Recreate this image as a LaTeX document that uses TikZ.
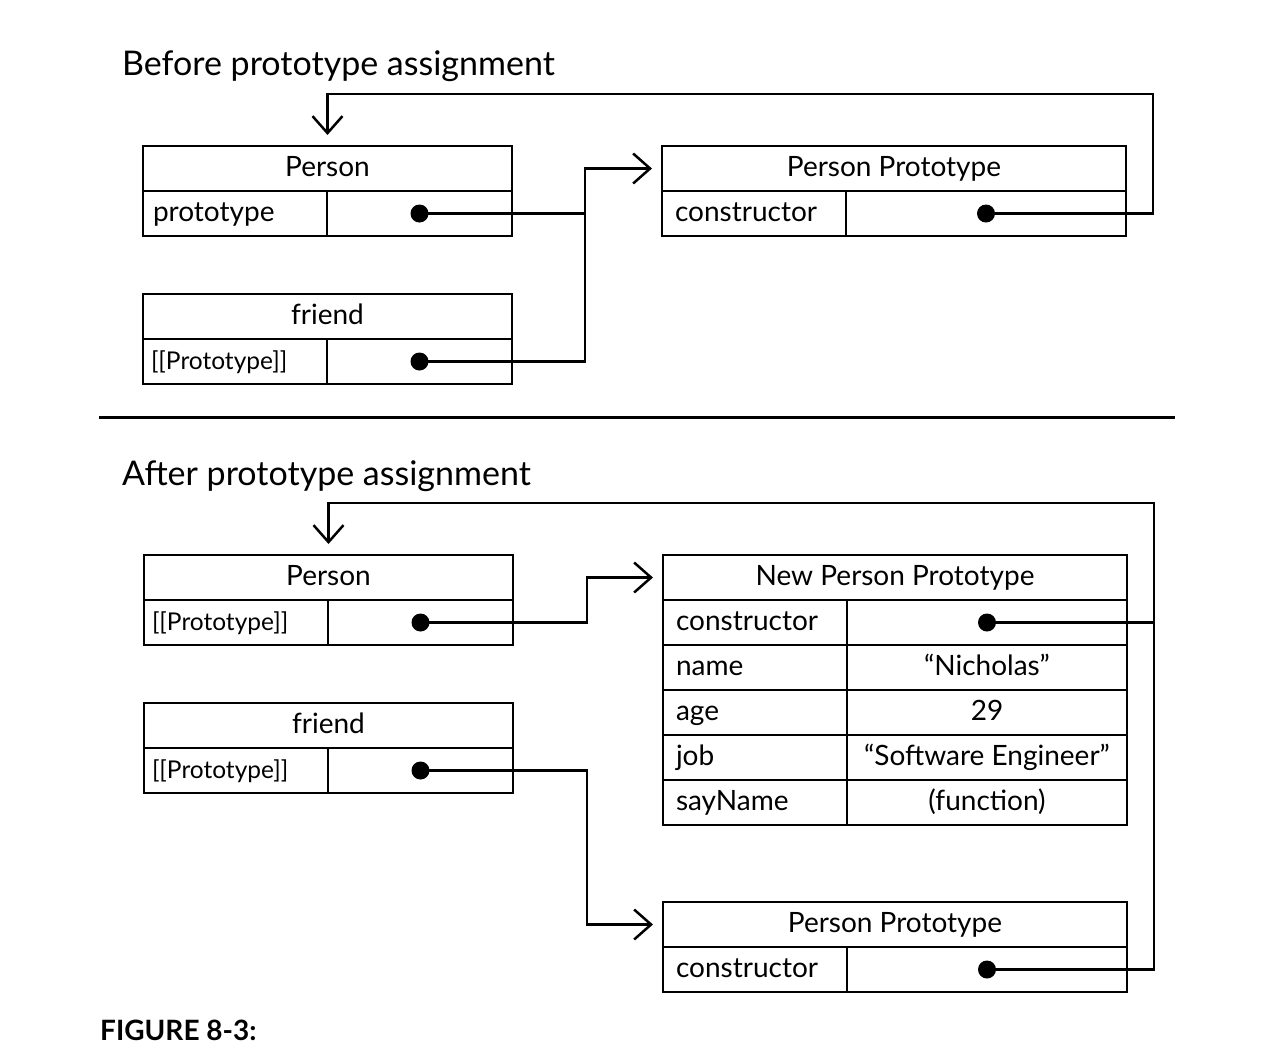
\documentclass[tikz,border=0pt]{standalone}
\usepackage{fontspec}
\setmainfont{Lato}
\usetikzlibrary{arrows.meta}
\begin{document}
\begin{tikzpicture}[x=1pt,y=-1pt,
  box/.style={draw, line width=2pt, minimum height=45pt, inner ysep=0pt, inner xsep=0pt,
    text height=21pt, text depth=6pt, font=\fontsize{28pt}{32pt}\selectfont, anchor=north west},
  head/.style={box, align=center},
  lcell/.style={box, inner xsep=10pt, text width=#1, align=left},
  protocell/.style={lcell=#1, inner xsep=8pt, text width=168pt, font=\fontsize{24.5pt}{28pt}\selectfont},
  rlcell/.style={box, inner xsep=13pt, text width=#1, align=left},
  vcell/.style={box, align=center},
  dot/.style={circle, fill=black, inner sep=0pt, minimum size=18pt},
  conn/.style={line width=2.5pt, line join=miter},
  tip/.style={-{Straight Barb[length=17pt,width=30pt,line width=2.5pt]}},
  title/.style={anchor=base west, inner sep=0pt, font=\fontsize{34pt}{40pt}\selectfont}
]
\useasboundingbox (0,0) rectangle (1271,1050);

% ---------- Before ----------
\node[title] (t1) at (122,75) {Before prototype assignment};

\node[head, minimum width=369pt] (p1h) at (142,145) {Person};
\node[lcell=164pt] (p1l) at (142,190) {prototype};
\node[vcell, minimum width=185pt] (p1v) at (326,190) {};
\node[dot] (d1) at (p1v.center) {};

\node[head, minimum width=369pt] (f1h) at (142,293) {friend};
\node[protocell=164pt] (f1l) at (142,338) {[[Prototype]]};
\node[vcell, minimum width=185pt] (f1v) at (326,338) {};
\node[dot] (d2) at (f1v.center) {};

\node[head, minimum width=464pt] (pp1h) at (661,145) {Person Prototype};
\node[rlcell=158pt] (pp1l) at (661,190) {constructor};
\node[vcell, minimum width=280pt] (pp1v) at (845,190) {};
\node[dot] (d3) at (pp1v.center) {};

\coordinate (bus1) at (585,300);
\draw[conn] (d1.center) -- (d1.center -| bus1);
\draw[conn, tip] (d2.center) -| (bus1) |- ([xshift=-9pt]pp1h.west);
\coordinate (ret1) at (1153,94);
\draw[conn, tip] (d3.center) -| (ret1) -| ([yshift=10pt]p1h.north);

\draw[line width=3pt] (99,417) -- (1175,417);

% ---------- After ----------
\node[title] (t2) at (122,485) {After prototype assignment};

\node[head, minimum width=369pt] (p2h) at (143,554) {Person};
\node[protocell=164pt] (p2l) at (143,599) {[[Prototype]]};
\node[vcell, minimum width=185pt] (p2v) at (327,599) {};
\node[dot] (d4) at (p2v.center) {};

\node[head, minimum width=369pt] (f2h) at (143,702) {friend};
\node[protocell=164pt] (f2l) at (143,747) {[[Prototype]]};
\node[vcell, minimum width=185pt] (f2v) at (327,747) {};
\node[dot] (d5) at (f2v.center) {};

\node[head, minimum width=464pt] (np) at (662,554) {New Person Prototype};
\node[rlcell=158pt] (npl1) at (662,599) {constructor};
\node[vcell, minimum width=280pt] (npv1) at (846,599) {};
\node[dot] (d6) at (npv1.center) {};
\node[rlcell=158pt] (npl2) at (662,644) {name};
\node[vcell, minimum width=280pt] (npv2) at (846,644) {“Nicholas”};
\node[rlcell=158pt] (npl3) at (662,689) {age};
\node[vcell, minimum width=280pt] (npv3) at (846,689) {29};
\node[rlcell=158pt] (npl4) at (662,734) {job};
\node[vcell, minimum width=280pt] (npv4) at (846,734) {“Software Engineer”};
\node[rlcell=158pt] (npl5) at (662,779) {sayName};
\node[vcell, minimum width=280pt] (npv5) at (846,779) {(function)};

\node[head, minimum width=464pt] (pp2h) at (662,901) {Person Prototype};
\node[rlcell=158pt] (pp2l) at (662,946) {constructor};
\node[vcell, minimum width=280pt] (pp2v) at (846,946) {};
\node[dot] (d7) at (pp2v.center) {};

\coordinate (bus2) at (587,600);
\coordinate (bus3) at (587,800);
\draw[conn, tip] (d4.center) -| (bus2) |- ([xshift=-9pt]np.west);
\draw[conn, tip] (d5.center) -| (bus3) |- ([xshift=-9pt]pp2h.west);
\coordinate (ret2) at (1154,503);
\draw[conn, tip] (d7.center) -| (ret2) -| ([yshift=10pt]p2h.north);
\draw[conn] (d6.center) -- (d6.center -| ret2);

\node[anchor=base west, inner sep=0pt, font=\fontsize{28pt}{32pt}\selectfont\bfseries] (fig) at (100,1040) {FIGURE 8-3:};
\end{tikzpicture}
\end{document}
